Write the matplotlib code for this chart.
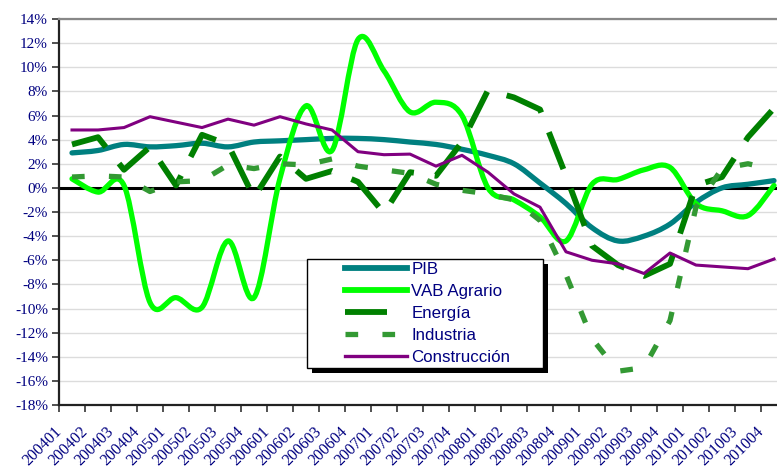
import numpy as np
import matplotlib
matplotlib.use("Agg")
import matplotlib.pyplot as plt
from matplotlib.path import Path
from matplotlib.patches import PathPatch, Rectangle
from matplotlib.lines import Line2D
from matplotlib.transforms import ScaledTranslation

quarters = ["200401", "200402", "200403", "200404",
            "200501", "200502", "200503", "200504",
            "200601", "200602", "200603", "200604",
            "200701", "200702", "200703", "200704",
            "200801", "200802", "200803", "200804",
            "200901", "200902", "200903", "200904",
            "201001", "201002", "201003", "201004"]

pib = [2.9, 3.1, 3.6, 3.4, 3.5, 3.7, 3.4, 3.8, 3.9, 4.0, 4.1, 4.1, 4.0, 3.8,
       3.6, 3.2, 2.7, 2.0, 0.4, -1.3, -3.3, -4.4, -4.0, -3.0, -1.2, 0.0, 0.3, 0.6]
vab_agrario = [0.75, -0.35, 0.2, -9.5, -9.1, -9.9, -4.4, -9.1, 0.8, 6.8, 3.1, 12.3,
               9.7, 6.3, 7.1, 6.0, 0.0, -1.0, -2.4, -4.4, 0.3, 0.7, 1.5, 1.7,
               -1.3, -1.9, -2.3, 0.2]
energia = [3.6, 4.2, 1.5, 3.4, 0.2, 4.4, 3.6, -0.8, 2.6, 0.75, 1.4, 0.5, -2.1, 1.3,
           1.0, 3.8, 8.1, 7.5, 6.5, 1.0, -4.8, -6.4, -7.3, -6.3, 0.2, 0.9, 4.2, 6.6]
industria = [0.9, 1.0, 0.9, -0.3, 0.5, 0.6, 1.9, 1.6, 2.0, 1.9, 2.4, 1.8, 1.5, 1.2,
             0.3, -0.2, -0.5, -1.0, -2.7, -7.2, -12.5, -15.2, -14.9, -11.0, -1.6,
             1.6, 2.0, 1.5]
construccion = [4.8, 4.8, 5.0, 5.9, 5.45, 5.0, 5.7, 5.2, 5.9, 5.3, 4.8, 3.0, 2.75,
                2.8, 1.8, 2.7, 1.3, -0.5, -1.6, -5.3, -6.0, -6.3, -7.1, -5.4, -6.4,
                -6.55, -6.7, -5.9]
series_names = ["PIB", "VAB Agrario", "Energía", "Industria", "Construcción"]

NAVY = "#000080"
C_PIB = "#008080"
C_VAB = "#00ff00"
C_ENE = "#008000"
C_IND = "#339933"
C_CON = "#800080"

ENE_DASH = (6.8, 3.6)
IND_DASH = (2.4, 4.6)


def smooth_path(values):
    # Excel style smoothed line: cubic bezier through every point
    n = len(values)
    pts = [(float(i), float(v)) for i, v in enumerate(values)]
    verts = [pts[0]]
    codes = [Path.MOVETO]
    for i in range(n - 1):
        p0 = pts[max(i - 1, 0)]
        p1 = pts[i]
        p2 = pts[i + 1]
        p3 = pts[min(i + 2, n - 1)]
        c1 = (p1[0] + (p2[0] - p0[0]) / 6, p1[1] + (p2[1] - p0[1]) / 6)
        c2 = (p2[0] - (p3[0] - p1[0]) / 6, p2[1] - (p3[1] - p1[1]) / 6)
        verts += [c1, c2, p2]
        codes += [Path.CURVE4] * 3
    return Path(verts, codes)


W, H = 777, 468
fig = plt.figure(figsize=(W / 100, H / 100), dpi=100)
ax = fig.add_axes([59 / W, 1 - 405 / H, 728 / W, 386 / H])

x = np.arange(len(quarters))

ax.add_patch(PathPatch(smooth_path(pib), fill=False, edgecolor=C_PIB, lw=3.8,
                       capstyle="round", joinstyle="round", zorder=3))
ax.add_patch(PathPatch(smooth_path(vab_agrario), fill=False, edgecolor=C_VAB, lw=3.8,
                       capstyle="round", joinstyle="round", zorder=3))
ax.plot(x, energia, color=C_ENE, lw=4.2, dashes=ENE_DASH, dash_capstyle="butt", zorder=3)
ax.plot(x, industria, color=C_IND, lw=3.8, dashes=IND_DASH, dash_capstyle="butt", zorder=3)
ax.plot(x, construccion, color=C_CON, lw=2.2, zorder=3)

ax.axhline(0, color="black", lw=2.2, zorder=2.5)

ax.set_xlim(-0.5, len(quarters) - 0.5)
ax.set_ylim(-18, 14)

yt = np.arange(-18, 15, 2)
ax.set_yticks(yt)
ax.set_yticklabels([f"{v}%" for v in yt], family="Liberation Serif",
                   fontsize=11, color=NAVY)
ax.tick_params(axis="y", direction="out", length=5, width=1.2, color="#333333", pad=3)
ax.yaxis.grid(True, color="#dcdcdc", lw=1)
ax.set_axisbelow(True)

ax.set_xticks(np.arange(-0.5, len(quarters), 1))
ax.set_xticklabels([])
ax.tick_params(axis="x", which="major", direction="out", length=5, width=1.2, color="#333333")
ax.set_xticks(x, minor=True)
ax.set_xticklabels(quarters, minor=True, rotation=45, ha="right", va="center",
                   rotation_mode="anchor", family="Liberation Serif", fontsize=11.5,
                   color=NAVY)
ax.tick_params(axis="x", which="minor", length=0, pad=17.5)
shift = ScaledTranslation(-13 / 100, 0, fig.dpi_scale_trans)
for lab in ax.get_xticklabels(minor=True):
    lab.set_transform(lab.get_transform() + shift)

for s in ["left", "bottom"]:
    ax.spines[s].set_color("#222222")
    ax.spines[s].set_linewidth(1.6)
ax.spines["top"].set_color("#888888")
ax.spines["top"].set_linewidth(1.6)
ax.spines["right"].set_visible(False)

# title is cut off by the top edge in the original
fig.text(420 / W, 1 - 0.5 / H, "Tasas de variación", ha="center", va="baseline",
         fontsize=11, fontweight="bold", color="#7777bb", family="Liberation Sans")

# legend box with solid shadow
bx0, by0, bx1, by1 = 307, 259, 543, 368
fig.add_artist(Rectangle(((bx0 + 5) / W, 1 - (by1 + 5) / H), (bx1 - bx0) / W,
                         (by1 - by0) / H, transform=fig.transFigure,
                         facecolor="black", edgecolor="none", zorder=5))
fig.add_artist(Rectangle((bx0 / W, 1 - by1 / H), (bx1 - bx0) / W, (by1 - by0) / H,
                         transform=fig.transFigure, facecolor="white",
                         edgecolor="black", lw=1, zorder=5.5))

handles = [
    Line2D([], [], color=C_PIB, lw=4.2),
    Line2D([], [], color=C_VAB, lw=4.2),
    Line2D([], [], color=C_ENE, lw=4.2, dashes=(7.2, 20), dash_capstyle="butt"),
    Line2D([], [], color=C_IND, lw=3.8, dashes=IND_DASH, dash_capstyle="butt"),
    Line2D([], [], color=C_CON, lw=2.4),
]
leg = fig.legend(handles, series_names, loc="upper left",
                 bbox_to_anchor=(345 / W, 1 - 262 / H), frameon=False,
                 prop={"family": "Liberation Sans", "size": 12.2},
                 handlelength=3.67, handletextpad=0.24, labelspacing=0.41,
                 borderpad=0, borderaxespad=0, labelcolor=NAVY)
leg.set_zorder(6)

fig.savefig("out.png", dpi=100)
